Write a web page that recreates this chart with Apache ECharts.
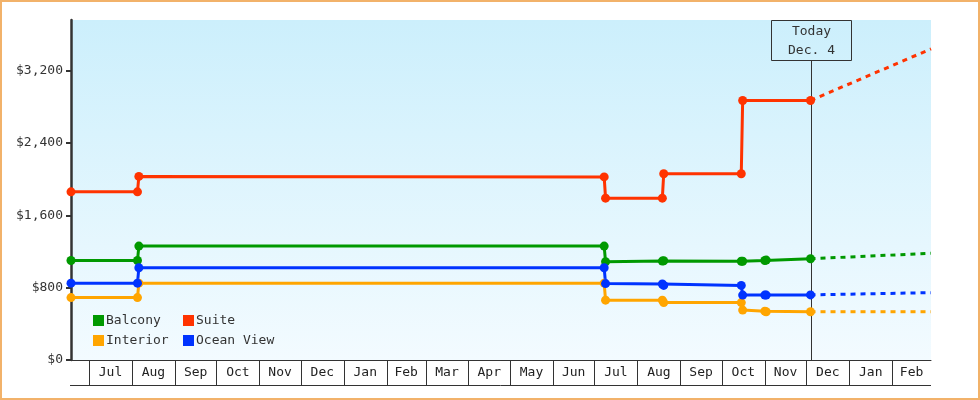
<!DOCTYPE html>
<html><head><meta charset="utf-8">
<script src="https://cdn.jsdelivr.net/npm/echarts@6/dist/echarts.min.js"></script>
<style>
html,body{margin:0;padding:0;background:#fff}
#wrap{position:relative;width:980px;height:400px}
#c{position:absolute;left:0;top:0;width:980px;height:400px}
#frame{position:absolute;left:0;top:0;width:980px;height:400px;box-sizing:border-box;border:2px solid #f2b26a;pointer-events:none}
</style>
</head><body><div id="wrap"><div id="c"></div><div id="frame"></div></div>
<script>
// ---- data ----
const xStart = '2021-06-18';
const xEnd = '2023-03-01';
const today = '2022-12-04';
const todayLabel = ['Today', 'Dec. 4'];
const monthStarts = ['2021-07-01','2021-08-01','2021-09-01','2021-10-01','2021-11-01','2021-12-01',
  '2022-01-01','2022-02-01','2022-03-01','2022-04-01','2022-05-01','2022-06-01','2022-07-01',
  '2022-08-01','2022-09-01','2022-10-01','2022-11-01','2022-12-01','2023-01-01','2023-02-01'];
const monthLabels = ['Jul','Aug','Sep','Oct','Nov','Dec','Jan','Feb','Mar','Apr','May','Jun',
  'Jul','Aug','Sep','Oct','Nov','Dec','Jan','Feb'];
const yTicks = [0, 800, 1600, 2400, 3200];
const yMax = 3760;

const suiteDates = ['2021-06-18','2021-08-05','2021-08-06','2022-07-08','2022-07-09','2022-08-19','2022-08-20','2022-10-15','2022-10-16','2022-12-04'];
const suitePrices = [1860, 1860, 2030, 2025, 1790, 1790, 2060, 2060, 2870, 2870];

const cabinDates = ['2021-06-18','2021-08-05','2021-08-06','2022-07-08','2022-07-09','2022-08-19','2022-08-20','2022-10-15','2022-10-16','2022-11-01','2022-11-02','2022-12-04'];
const balconyPrices = [1100, 1100, 1260, 1260, 1086, 1094, 1097, 1092, 1092, 1100, 1105, 1120];
const interiorPrices = [690, 690, 850, 850, 662, 662, 635, 635, 552, 540, 534, 534];
const oceanPrices = [850, 850, 1020, 1020, 845, 840, 825, 825, 718, 718, 718, 720];

const forecastDates = ['2022-12-04', '2023-03-01'];
const suiteForecast = [2870, 3440];
const balconyForecast = [1120, 1180];
const interiorForecast = [534, 534];
const oceanForecast = [720, 745];

// ---- helpers ----
const t = s => new Date(s + 'T00:00:00').getTime();
const pair = (dates, vals) => dates.map((d, i) => [t(d), vals[i]]);
const FONT = '"DejaVu Sans Mono", monospace';
const COLORS = { Balcony: '#009900', Suite: '#ff3300', Interior: '#ffa500', 'Ocean View': '#0033ff' };

function solid(name, dates, vals) {
  return {
    name, type: 'line', data: pair(dates, vals), clip: false,
    symbol: 'circle', symbolSize: 9, showSymbol: true,
    color: COLORS[name],
    lineStyle: { width: 3, color: COLORS[name] },
    itemStyle: { color: COLORS[name] },
    emphasis: { disabled: true }, z: 3
  };
}
function dashed(name, vals) {
  return {
    name: name + ' forecast', type: 'line', data: pair(forecastDates, vals), clip: false,
    symbol: 'none', color: COLORS[name],
    lineStyle: { width: 3, type: [5, 5], dashOffset: 0, color: COLORS[name] },
    emphasis: { disabled: true }, z: 2
  };
}

const monthData = monthStarts.map((s, i) => [t(s), 0, t(monthStarts[i + 1] || xEnd)]);

const legendCommon = {
  orient: 'vertical', itemWidth: 11, itemHeight: 11, itemGap: 7, padding: 0, icon: 'rect',
  selectedMode: false,
  textStyle: { fontFamily: FONT, fontSize: 13, color: '#333', lineHeight: 13, padding: [0, 0, 0, -3] }
};

const chart = echarts.init(document.getElementById('c'), null, { renderer: 'canvas' });
chart.setOption({
  animation: false,
  backgroundColor: '#fff',
  grid: {
    left: 71, right: 49, top: 20, bottom: 40, show: true, borderWidth: 0,
    backgroundColor: {
      type: 'linear', x: 0, y: 0, x2: 0, y2: 1,
      colorStops: [{ offset: 0, color: '#cceffc' }, { offset: 1, color: '#f3fbff' }]
    }
  },
  legend: [
    Object.assign({ data: ['Balcony', 'Interior'], left: 93, top: 314 }, legendCommon),
    Object.assign({ data: ['Suite', 'Ocean View'], left: 183, top: 314 }, legendCommon)
  ],
  xAxis: {
    type: 'time', min: t(xStart), max: t(xEnd),
    axisLine: { show: true, lineStyle: { color: '#333', width: 1 } },
    axisTick: { show: false }, axisLabel: { show: false }, splitLine: { show: false }
  },
  yAxis: {
    type: 'value', min: 0, max: yMax,
    axisLine: { show: true, lineStyle: { color: '#333', width: 2.5 } },
    axisTick: { show: true, length: 5, lineStyle: { color: '#333', width: 2 }, customValues: yTicks },
    axisLabel: {
      customValues: yTicks, margin: 8, fontFamily: FONT, fontSize: 13, color: '#333',
      formatter: v => '$' + Number(v).toLocaleString('en-US')
    },
    splitLine: { show: false }
  },
  series: [
    dashed('Balcony', balconyForecast),
    dashed('Interior', interiorForecast),
    dashed('Ocean View', oceanForecast),
    dashed('Suite', suiteForecast),
    solid('Balcony', cabinDates, balconyPrices),
    solid('Interior', cabinDates, interiorPrices),
    solid('Ocean View', cabinDates, oceanPrices),
    solid('Suite', suiteDates, suitePrices),
    {
      type: 'custom', name: 'months', data: monthData, silent: true, z: 5,
      encode: { x: 0, y: 1 },
      renderItem(params, api) {
        const s = api.value(0), e = api.value(2);
        const p0 = api.coord([s, 0]), p1 = api.coord([e, 0]);
        const y = p0[1];
        const x = Math.round(p0[0]) + 0.5;
        const children = [
          { type: 'line', shape: { x1: x, y1: y, x2: x, y2: y + 25 }, style: { stroke: '#333', lineWidth: 1 } },
          { type: 'text', style: { text: monthLabels[params.dataIndex], x: (p0[0] + p1[0]) / 2, y: y + 13,
            align: 'center', verticalAlign: 'middle', font: '13px ' + FONT, fill: '#222' } }
        ];
        if (params.dataIndex === 0) {
          const a = api.coord([t(xStart), 0]), b = api.coord([t(xEnd), 0]);
          children.push({ type: 'line', shape: { x1: a[0] - 1, y1: Math.round(y + 25) + 0.5, x2: b[0], y2: Math.round(y + 25) + 0.5 },
            style: { stroke: '#333', lineWidth: 1 } });
        }
        return { type: 'group', children };
      }
    },
    {
      type: 'custom', name: 'today', data: [[t(today), 0]], silent: true, z: 1,
      encode: { x: 0, y: 1 },
      renderItem(params, api) {
        const v = api.value(0);
        const p = api.coord([v, 0]);
        const top = api.coord([v, yMax])[1];
        const x = Math.round(p[0]) + 0.5;
        return {
          type: 'group', children: [
            { type: 'line', shape: { x1: x, y1: top + 40, x2: x, y2: p[1] }, style: { stroke: '#333', lineWidth: 1 } },
            { type: 'rect', shape: { x: x - 40, y: Math.round(top) + 0.5, width: 80, height: 40 },
              style: { fill: 'rgba(0,0,0,0)', stroke: '#333', lineWidth: 1 } },
            { type: 'text', style: { text: todayLabel.join('\n'), x: x, y: top + 21, align: 'center',
              verticalAlign: 'middle', font: '13px ' + FONT, fill: '#333', lineHeight: 19 } }
          ]
        };
      }
    }
  ]
});
</script>
</body></html>
